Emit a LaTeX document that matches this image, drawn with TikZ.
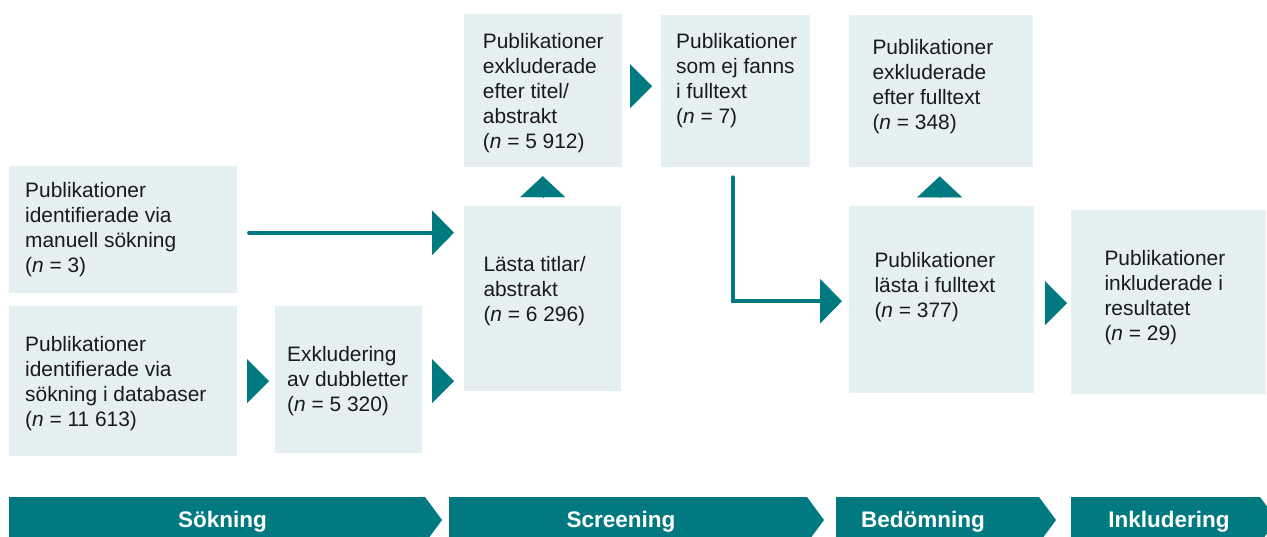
\documentclass[tikz,border=0pt]{standalone}
\usepackage{fontspec}
\setmainfont{Liberation Sans}
\usetikzlibrary{arrows.meta,calc}
\definecolor{teal}{RGB}{0,122,128}
\definecolor{boxfill}{RGB}{229,240,242}
\definecolor{txt}{RGB}{26,26,26}
\tikzset{
  box/.style={fill=boxfill, draw=none, inner sep=0pt, anchor=north west},
  txtnode/.style={anchor=north west, inner sep=0pt, align=left, text=txt,
    font=\fontsize{20.9}{25}\selectfont},
  headarrow/.style={draw=teal, line width=0.1pt, -{Triangle[length=22pt,width=44pt]}},
  vheadarrow/.style={draw=teal, line width=0.1pt, -{Triangle[length=21pt,width=45pt]}},
  conn/.style={draw=teal, line width=4pt, line cap=round, -{Triangle[length=22pt,width=44pt]}},
  bar/.style={fill=teal, draw=none},
  barlabel/.style={anchor=base, inner sep=0pt, text=white, font=\fontsize{22.5}{26}\selectfont\bfseries}
}
\newcommand{\fl}{\rule{0pt}{16pt}}
\begin{document}
\begin{tikzpicture}[x=1pt,y=-1pt]
\clip (0,0) rectangle (1267,536);
% boxes
\node[box, minimum width=228pt, minimum height=127pt] (A) at (9,166) {};
\node[box, minimum width=228pt, minimum height=150pt] (B) at (9,306) {};
\node[box, minimum width=147pt, minimum height=147pt] (C) at (275,305.5) {};
\node[box, minimum width=157pt, minimum height=185pt] (D) at (464,206) {};
\node[box, minimum width=158pt, minimum height=153.5pt] (E) at (464,13.3) {};
\node[box, minimum width=149pt, minimum height=152pt] (F) at (661,15) {};
\node[box, minimum width=184pt, minimum height=152pt] (G) at (849,15) {};
\node[box, minimum width=185pt, minimum height=187pt] (H) at (849,206) {};
\node[box, minimum width=195pt, minimum height=184pt] (I) at (1071,209.3) {};
% texts
\node[txtnode] (tA) at (25,181.3) {\fl Publikationer\\identifierade via\\manuell sökning\\(\textit{n} = 3)};
\node[txtnode] (tB) at (25,335.7) {\fl Publikationer\\identifierade via\\sökning i databaser\\(\textit{n} = 11 613)};
\node[txtnode] (tC) at (287,345) {\fl Exkludering\\av dubbletter\\(\textit{n} = 5 320)};
\node[txtnode] (tD) at (483.3,255.7) {\fl Lästa titlar/\\abstrakt\\(\textit{n} = 6 296)};
\node[txtnode] (tE) at (482.7,32.3) {\fl Publikationer\\exkluderade\\efter titel/\\abstrakt\\(\textit{n} = 5 912)};
\node[txtnode] (tF) at (676,32.3) {\fl Publikationer\\som ej fanns\\i fulltext\\(\textit{n} = 7)};
\node[txtnode] (tG) at (872.3,38) {\fl Publikationer\\exkluderade\\efter fulltext\\(\textit{n} = 348)};
\node[txtnode] (tH) at (874.3,251.3) {\fl Publikationer\\lästa i fulltext\\(\textit{n} = 377)};
\node[txtnode] (tI) at (1104.3,249) {\fl Publikationer\\inkluderade i\\resultatet\\(\textit{n} = 29)};
% triangle connectors
\draw[headarrow, shorten <=10pt, shorten >=6pt] (B.east) -- (B.east -| C.west);
\draw[headarrow, shorten <=10pt, shorten >=10pt] (C.east |- B.east) -- (D.west |- B.east);
\draw[headarrow, shorten <=8pt, shorten >=9pt] ($(E.east)+(0,-4)$) -- ($(F.west |- E.east)+(0,-4)$);
\draw[headarrow, shorten <=11pt, shorten >=4pt] ($(H.east)+(0,3.5)$) -- ($(I.west |- H.east)+(0,3.5)$);
\draw[vheadarrow, shorten <=9.2pt, shorten >=9pt] (D.north) -- (D.north |- E.south);
\draw[vheadarrow, shorten <=9pt, shorten >=9pt] ($(H.north)+(-2,0)$) -- ($(H.north |- G.south)+(-2,0)$);
% line connectors
\draw[conn, shorten <=11.7pt, shorten >=10pt] ($(A.east)+(0,3)$) -- ($(D.west |- A.east)+(0,3)$);
\draw[conn, shorten <=10pt, shorten >=7pt] ($(F.south)+(-3,0)$) |- ($(H.west)+(0,1.5)$);
% phase bar
\fill[bar] (9,497) -- (425,497) -- (442,520) -- (425,543) -- (9,543) -- cycle;
\fill[bar] (449,497) -- (807,497) -- (824,520) -- (807,543) -- (449,543) -- cycle;
\fill[bar] (836,497) -- (1039,497) -- (1056,520) -- (1039,543) -- (836,543) -- cycle;
\fill[bar] (1071,497) -- (1260,497) -- (1277,520) -- (1260,543) -- (1071,543) -- cycle;
\node[barlabel] (s1) at (222.5,527.3) {Sökning};
\node[barlabel] (s2) at (621,527.3) {Screening};
\node[barlabel] (s3) at (923,527.3) {Bedömning};
\node[barlabel] (s4) at (1169,527.3) {Inkludering};
\end{tikzpicture}
\end{document}
